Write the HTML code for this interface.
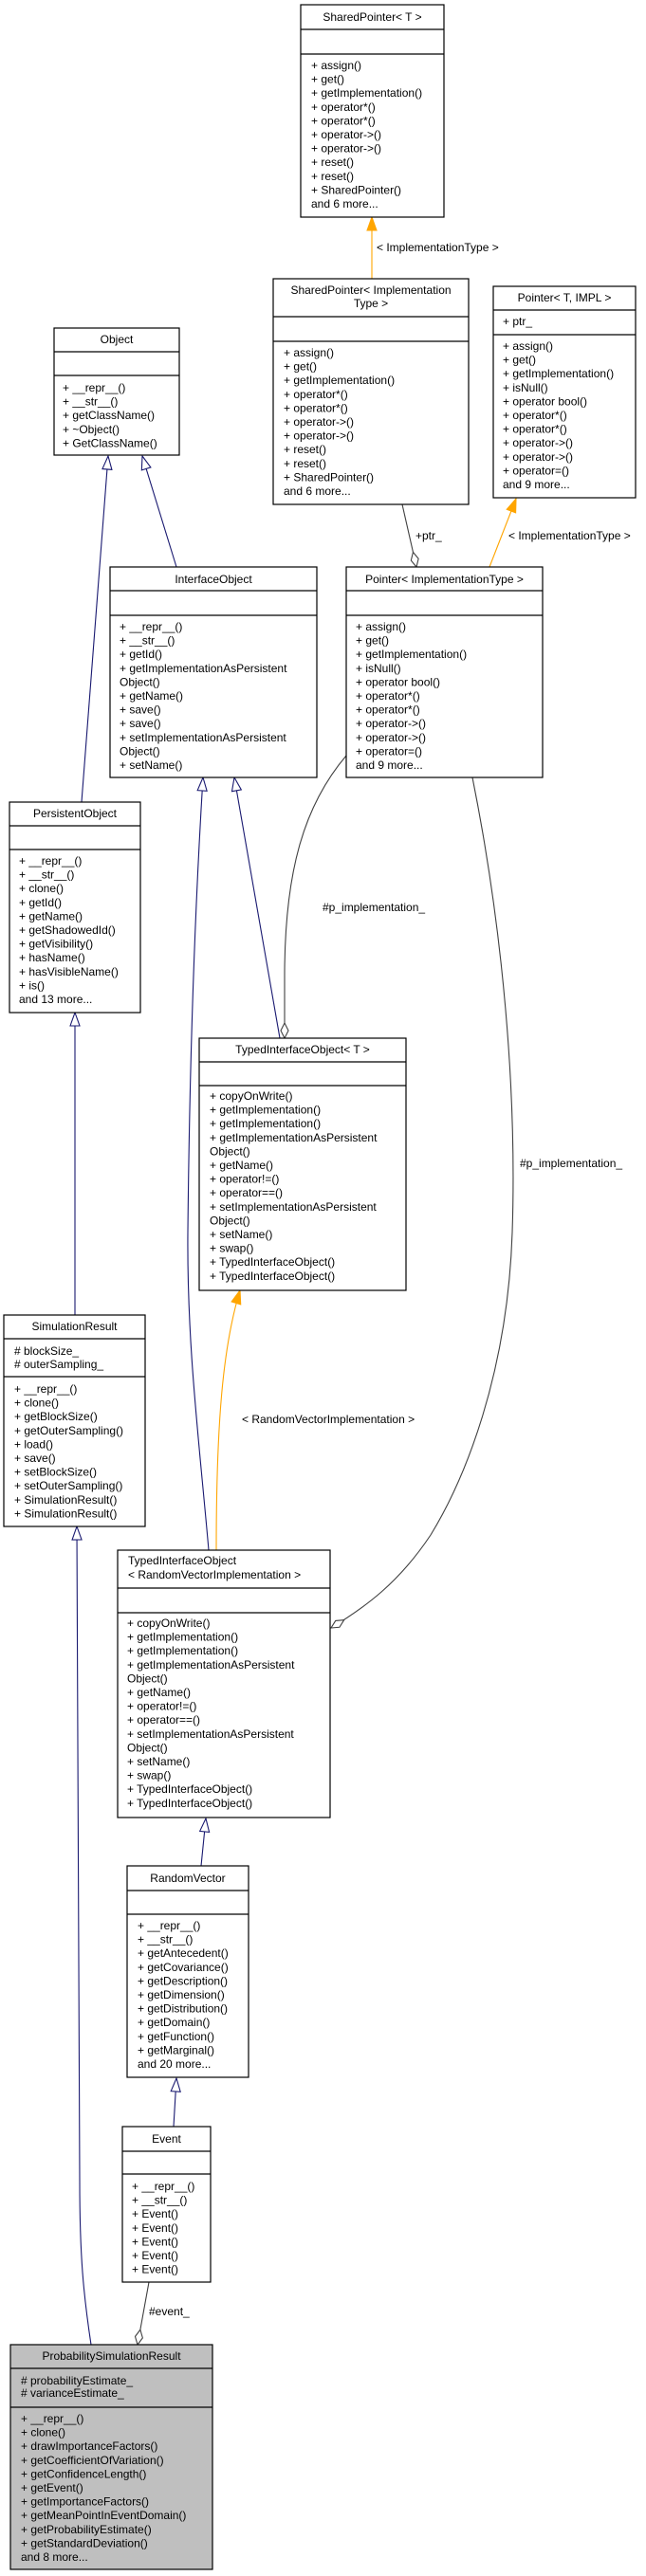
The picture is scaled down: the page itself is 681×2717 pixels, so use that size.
<!DOCTYPE html>
<html><head><meta charset="utf-8"><style>
html,body{margin:0;padding:0;background:#fff;}
svg{display:block;}
text{font-family:"Liberation Sans",Helvetica,sans-serif;font-size:12px;fill:#000;}
.b{fill:#fff;stroke:#000;stroke-width:1.2;}
.g{fill:#bfbfbf;stroke:#000;stroke-width:1.2;}
.d{stroke:#000;stroke-width:1.2;}
.inh{fill:none;stroke:#191970;stroke-width:1.1;}
.tpl{fill:none;stroke:#FFA500;stroke-width:1.1;}
.agg{fill:none;stroke:#404040;stroke-width:1.1;}
</style></head><body>
<svg width="681" height="2717" viewBox="0 0 681 2717" xmlns="http://www.w3.org/2000/svg">
<defs>
<marker id="mi" markerUnits="userSpaceOnUse" markerWidth="16" markerHeight="12" refX="15" refY="6" orient="auto" overflow="visible"><path d="M1,1 L15,6 L1,11 z" fill="#fff" stroke="#191970" stroke-width="1.1"/></marker>
<marker id="mo" markerUnits="userSpaceOnUse" markerWidth="16" markerHeight="12" refX="15" refY="6" orient="auto" overflow="visible"><path d="M1,1 L15,6 L1,11 z" fill="#FFA500" stroke="#FFA500" stroke-width="1.1"/></marker>
<marker id="md" markerUnits="userSpaceOnUse" markerWidth="18" markerHeight="12" refX="17" refY="6" orient="auto" overflow="visible"><path d="M1,6 L9,2 L17,6 L9,10 z" fill="#fff" stroke="#404040" stroke-width="1.1"/></marker>
</defs>

<!-- edges -->
<path class="tpl" d="M392,295 L392,229" marker-end="url(#mo)"/>
<text x="397" y="265">&lt; ImplementationType &gt;</text>
<path class="tpl" d="M516,598 L544,526" marker-end="url(#mo)"/>
<text x="536" y="569">&lt; ImplementationType &gt;</text>
<path class="agg" d="M424,532 L439,598" marker-end="url(#md)"/>
<text x="438" y="569">+ptr_</text>
<path class="inh" d="M86,846 L114,481" marker-end="url(#mi)"/>
<path class="inh" d="M186,598 L150,481" marker-end="url(#mi)"/>
<path class="inh" d="M295,1095 L247,820" marker-end="url(#mi)"/>
<path class="inh" d="M220,1635 C210,1520 197,1420 198,1300 C200,1100 206,950 214,820" marker-end="url(#mi)"/>
<path class="tpl" d="M228,1635 C228,1500 235,1420 253,1361" marker-end="url(#mo)"/>
<text x="255" y="1501">&lt; RandomVectorImplementation &gt;</text>
<path class="inh" d="M79,1387 L79,1068" marker-end="url(#mi)"/>
<path class="inh" d="M212,1968 L217,1918" marker-end="url(#mi)"/>
<path class="inh" d="M183,2243 L186,2192" marker-end="url(#mi)"/>
<path class="inh" d="M96,2473 C88,2420 84,2380 84,2300 L81,1610" marker-end="url(#mi)"/>
<path class="agg" d="M157,2407 L145,2473" marker-end="url(#md)"/>
<text x="157" y="2442">#event_</text>
<path class="agg" d="M365,797 C320,850 300,920 300,1030 L300,1095" marker-end="url(#md)"/>
<text x="340" y="961">#p_implementation_</text>
<path class="agg" d="M498,820 C530,980 545,1150 540,1300 C535,1450 490,1560 454,1619 C420,1670 385,1695 349,1717" marker-end="url(#md)"/>
<text x="548" y="1231">#p_implementation_</text>

<!-- SharedPointer< T > -->
<rect class="b" x="317" y="5" width="151" height="224"/>
<line class="d" x1="317" y1="31" x2="468" y2="31"/><line class="d" x1="317" y1="57" x2="468" y2="57"/>
<text x="392.5" y="22" text-anchor="middle">SharedPointer&lt; T &gt;</text>
<g transform="translate(328,73)">
<text y="0">+ assign()</text><text y="14.6">+ get()</text><text y="29.2">+ getImplementation()</text><text y="43.8">+ operator*()</text><text y="58.4">+ operator*()</text><text y="73">+ operator-&gt;()</text><text y="87.6">+ operator-&gt;()</text><text y="102.2">+ reset()</text><text y="116.8">+ reset()</text><text y="131.4">+ SharedPointer()</text><text y="146">and 6 more...</text>
</g>

<!-- SharedPointer< ImplementationType > -->
<rect class="b" x="288" y="294" width="206" height="238"/>
<line class="d" x1="288" y1="334" x2="494" y2="334"/><line class="d" x1="288" y1="360" x2="494" y2="360"/>
<text x="391" y="310" text-anchor="middle">SharedPointer&lt; Implementation</text>
<text x="391" y="324" text-anchor="middle">Type &gt;</text>
<g transform="translate(299,376)">
<text y="0">+ assign()</text><text y="14.6">+ get()</text><text y="29.2">+ getImplementation()</text><text y="43.8">+ operator*()</text><text y="58.4">+ operator*()</text><text y="73">+ operator-&gt;()</text><text y="87.6">+ operator-&gt;()</text><text y="102.2">+ reset()</text><text y="116.8">+ reset()</text><text y="131.4">+ SharedPointer()</text><text y="146">and 6 more...</text>
</g>

<!-- Pointer< T, IMPL > -->
<rect class="b" x="520" y="302" width="150" height="223"/>
<line class="d" x1="520" y1="327" x2="670" y2="327"/><line class="d" x1="520" y1="353" x2="670" y2="353"/>
<text x="595" y="318" text-anchor="middle">Pointer&lt; T, IMPL &gt;</text>
<text x="530" y="343">+ ptr_</text>
<g transform="translate(530,369)">
<text y="0">+ assign()</text><text y="14.6">+ get()</text><text y="29.2">+ getImplementation()</text><text y="43.8">+ isNull()</text><text y="58.4">+ operator bool()</text><text y="73">+ operator*()</text><text y="87.6">+ operator*()</text><text y="102.2">+ operator-&gt;()</text><text y="116.8">+ operator-&gt;()</text><text y="131.4">+ operator=()</text><text y="146">and 9 more...</text>
</g>

<!-- Object -->
<rect class="b" x="57" y="346" width="132" height="134"/>
<line class="d" x1="57" y1="371" x2="189" y2="371"/><line class="d" x1="57" y1="396" x2="189" y2="396"/>
<text x="123" y="362" text-anchor="middle">Object</text>
<g transform="translate(66,413)">
<text y="0">+ __repr__()</text><text y="14.6">+ __str__()</text><text y="29.2">+ getClassName()</text><text y="43.8">+ ~Object()</text><text y="58.4">+ GetClassName()</text>
</g>

<!-- InterfaceObject -->
<rect class="b" x="116" y="598" width="218" height="222"/>
<line class="d" x1="116" y1="623" x2="334" y2="623"/><line class="d" x1="116" y1="649" x2="334" y2="649"/>
<text x="225" y="615" text-anchor="middle">InterfaceObject</text>
<g transform="translate(126,665)">
<text y="0">+ __repr__()</text><text y="14.6">+ __str__()</text><text y="29.2">+ getId()</text><text y="43.8">+ getImplementationAsPersistent</text><text y="58.4">Object()</text><text y="73">+ getName()</text><text y="87.6">+ save()</text><text y="102.2">+ save()</text><text y="116.8">+ setImplementationAsPersistent</text><text y="131.4">Object()</text><text y="146">+ setName()</text>
</g>

<!-- Pointer< ImplementationType > -->
<rect class="b" x="365" y="598" width="207" height="222"/>
<line class="d" x1="365" y1="623" x2="572" y2="623"/><line class="d" x1="365" y1="649" x2="572" y2="649"/>
<text x="468.5" y="615" text-anchor="middle">Pointer&lt; ImplementationType &gt;</text>
<g transform="translate(375,665)">
<text y="0">+ assign()</text><text y="14.6">+ get()</text><text y="29.2">+ getImplementation()</text><text y="43.8">+ isNull()</text><text y="58.4">+ operator bool()</text><text y="73">+ operator*()</text><text y="87.6">+ operator*()</text><text y="102.2">+ operator-&gt;()</text><text y="116.8">+ operator-&gt;()</text><text y="131.4">+ operator=()</text><text y="146">and 9 more...</text>
</g>

<!-- PersistentObject -->
<rect class="b" x="10" y="846" width="138" height="222"/>
<line class="d" x1="10" y1="871" x2="148" y2="871"/><line class="d" x1="10" y1="896" x2="148" y2="896"/>
<text x="79" y="862" text-anchor="middle">PersistentObject</text>
<g transform="translate(20,912)">
<text y="0">+ __repr__()</text><text y="14.6">+ __str__()</text><text y="29.2">+ clone()</text><text y="43.8">+ getId()</text><text y="58.4">+ getName()</text><text y="73">+ getShadowedId()</text><text y="87.6">+ getVisibility()</text><text y="102.2">+ hasName()</text><text y="116.8">+ hasVisibleName()</text><text y="131.4">+ is()</text><text y="146">and 13 more...</text>
</g>

<!-- TypedInterfaceObject< T > -->
<rect class="b" x="210" y="1095" width="218" height="266"/>
<line class="d" x1="210" y1="1120" x2="428" y2="1120"/><line class="d" x1="210" y1="1145" x2="428" y2="1145"/>
<text x="319" y="1111" text-anchor="middle">TypedInterfaceObject&lt; T &gt;</text>
<g transform="translate(221,1160)">
<text y="0">+ copyOnWrite()</text><text y="14.6">+ getImplementation()</text><text y="29.2">+ getImplementation()</text><text y="43.8">+ getImplementationAsPersistent</text><text y="58.4">Object()</text><text y="73">+ getName()</text><text y="87.6">+ operator!=()</text><text y="102.2">+ operator==()</text><text y="116.8">+ setImplementationAsPersistent</text><text y="131.4">Object()</text><text y="146">+ setName()</text><text y="160.6">+ swap()</text><text y="175.2">+ TypedInterfaceObject()</text><text y="189.8">+ TypedInterfaceObject()</text>
</g>

<!-- SimulationResult -->
<rect class="b" x="4" y="1387" width="149" height="223"/>
<line class="d" x1="4" y1="1412" x2="153" y2="1412"/><line class="d" x1="4" y1="1452" x2="153" y2="1452"/>
<text x="78.5" y="1403" text-anchor="middle">SimulationResult</text>
<text x="15" y="1429"># blockSize_</text><text x="15" y="1443"># outerSampling_</text>
<g transform="translate(15,1469)">
<text y="0">+ __repr__()</text><text y="14.6">+ clone()</text><text y="29.2">+ getBlockSize()</text><text y="43.8">+ getOuterSampling()</text><text y="58.4">+ load()</text><text y="73">+ save()</text><text y="87.6">+ setBlockSize()</text><text y="102.2">+ setOuterSampling()</text><text y="116.8">+ SimulationResult()</text><text y="131.4">+ SimulationResult()</text>
</g>

<!-- TypedInterfaceObject< RandomVectorImplementation > -->
<rect class="b" x="124" y="1635" width="224" height="282"/>
<line class="d" x1="124" y1="1675" x2="348" y2="1675"/><line class="d" x1="124" y1="1701" x2="348" y2="1701"/>
<text x="135" y="1650">TypedInterfaceObject</text>
<text x="135" y="1665">&lt; RandomVectorImplementation &gt;</text>
<g transform="translate(134,1716)">
<text y="0">+ copyOnWrite()</text><text y="14.6">+ getImplementation()</text><text y="29.2">+ getImplementation()</text><text y="43.8">+ getImplementationAsPersistent</text><text y="58.4">Object()</text><text y="73">+ getName()</text><text y="87.6">+ operator!=()</text><text y="102.2">+ operator==()</text><text y="116.8">+ setImplementationAsPersistent</text><text y="131.4">Object()</text><text y="146">+ setName()</text><text y="160.6">+ swap()</text><text y="175.2">+ TypedInterfaceObject()</text><text y="189.8">+ TypedInterfaceObject()</text>
</g>

<!-- RandomVector -->
<rect class="b" x="134" y="1968" width="128" height="223"/>
<line class="d" x1="134" y1="1994" x2="262" y2="1994"/><line class="d" x1="134" y1="2019" x2="262" y2="2019"/>
<text x="198" y="1985" text-anchor="middle">RandomVector</text>
<g transform="translate(145,2035)">
<text y="0">+ __repr__()</text><text y="14.6">+ __str__()</text><text y="29.2">+ getAntecedent()</text><text y="43.8">+ getCovariance()</text><text y="58.4">+ getDescription()</text><text y="73">+ getDimension()</text><text y="87.6">+ getDistribution()</text><text y="102.2">+ getDomain()</text><text y="116.8">+ getFunction()</text><text y="131.4">+ getMarginal()</text><text y="146">and 20 more...</text>
</g>

<!-- Event -->
<rect class="b" x="129" y="2243" width="93" height="164"/>
<line class="d" x1="129" y1="2269" x2="222" y2="2269"/><line class="d" x1="129" y1="2293" x2="222" y2="2293"/>
<text x="175.5" y="2260" text-anchor="middle">Event</text>
<g transform="translate(139,2310)">
<text y="0">+ __repr__()</text><text y="14.6">+ __str__()</text><text y="29.2">+ Event()</text><text y="43.8">+ Event()</text><text y="58.4">+ Event()</text><text y="73">+ Event()</text><text y="87.6">+ Event()</text>
</g>

<!-- ProbabilitySimulationResult -->
<rect class="g" x="11" y="2473" width="213" height="237"/>
<line class="d" x1="11" y1="2498" x2="224" y2="2498"/><line class="d" x1="11" y1="2539" x2="224" y2="2539"/>
<text x="117.5" y="2489" text-anchor="middle">ProbabilitySimulationResult</text>
<text x="22" y="2515"># probabilityEstimate_</text><text x="22" y="2528"># varianceEstimate_</text>
<g transform="translate(22,2555)">
<text y="0">+ __repr__()</text><text y="14.6">+ clone()</text><text y="29.2">+ drawImportanceFactors()</text><text y="43.8">+ getCoefficientOfVariation()</text><text y="58.4">+ getConfidenceLength()</text><text y="73">+ getEvent()</text><text y="87.6">+ getImportanceFactors()</text><text y="102.2">+ getMeanPointInEventDomain()</text><text y="116.8">+ getProbabilityEstimate()</text><text y="131.4">+ getStandardDeviation()</text><text y="146">and 8 more...</text>
</g>
</svg>
</body></html>
